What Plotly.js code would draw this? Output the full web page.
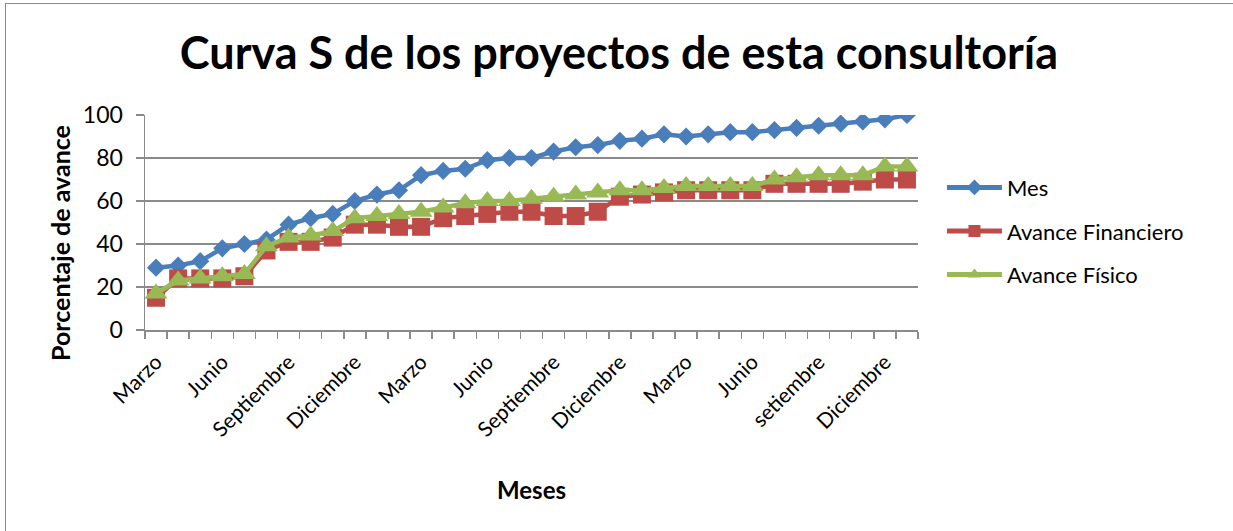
<!DOCTYPE html>
<html>
<head>
<meta charset="utf-8">
<script src="https://cdn.plot.ly/plotly-3.0.1.min.js"></script>
<style>
  html, body { margin: 0; padding: 0; background: #fff; }
  #chart { width: 1233px; height: 531px; }
  #frame { position: absolute; left: 5px; top: 3px; width: 1240px; height: 540px;
           border-left: 1.5px solid #8a8a8a; border-top: 1.5px solid #8a8a8a; pointer-events: none; }
</style>
</head>
<body>
<div id="chart"></div>
<div id="frame"></div>
<script>
const months = [
  "Marzo","Abril","Mayo","Junio","Julio","Agosto","Septiembre","Octubre","Noviembre","Diciembre","Enero","Febrero",
  "Marzo","Abril","Mayo","Junio","Julio","Agosto","Septiembre","Octubre","Noviembre","Diciembre","Enero","Febrero",
  "Marzo","Abril","Mayo","Junio","Julio","Agosto","setiembre","Octubre","Noviembre","Diciembre","Enero"
];
const labelEvery = 3;

const mes = [29,30,32,38,40,42,49,52,54,60,63,65,72,74,75,79,80,80,83,85,86,88,89,91,90,91,92,92,93,94,95,96,97,98,100];
const avanceFinanciero = [15,24,24,24,25,37,41,41,43,49,49,48,48,52,53,54,55,55,53,53,55,62,63,64,65,65,65,65,68,68,68,68,69,70,70];
const avanceFisico = [17,23,24,25,26,39,43,44,46,52,53,54,55,57,59,60,60,61,62,63,64,65,65,66,67,67,67,67,70,71,72,72,72,76,76];

const seriesNames = ["Mes","Avance Financiero","Avance Físico"];
const colors = ["#4A7EBB","#BE4B48","#98B954"];

const xIdx = months.map((_, i) => i);
const tickVals = xIdx.filter(i => i % labelEvery === 0);
const tickText = tickVals.map(i => months[i]);

const FONT = "Lato, 'Liberation Sans', sans-serif";

const traces = [
  {x: xIdx, y: mes, name: seriesNames[0], mode: "lines+markers", legendgroup: "a",
   line: {color: colors[0], width: 4.5}, marker: {symbol: "diamond", size: 14, color: colors[0]}},
  {x: xIdx, y: avanceFinanciero, name: seriesNames[1], mode: "lines+markers", legendgroup: "b",
   line: {color: colors[1], width: 4.5}, marker: {symbol: "square", size: 18, color: colors[1]}},
  {x: xIdx, y: avanceFisico, name: seriesNames[2], mode: "lines+markers", legendgroup: "c",
   line: {color: colors[2], width: 4.5}, marker: {symbol: "triangle-up", size: 20, color: colors[2]}}
];

const layout = {
  width: 1233, height: 531,
  paper_bgcolor: "#fff", plot_bgcolor: "#fff",
  margin: {l: 145, r: 315, t: 115, b: 201, autoexpand: false},
  font: {family: FONT, color: "#000", size: 19},
  title: {text: "<b>Curva S de los proyectos de esta consultoría</b>", font: {family: FONT, size: 45, color: "#000"},
          xref: "container", yref: "container", x: 0.502, xanchor: "center", y: 0.9, yanchor: "middle"},
  xaxis: {
    range: [-0.5, 34.5], tickmode: "array", tickvals: tickVals, ticktext: tickText,
    tickangle: -45, ticks: "", showgrid: false, zeroline: false, ticklabelstandoff: 10,
    showline: true, linecolor: "#8a8a8a", linewidth: 1.5,
    tickfont: {family: FONT, size: 21, color: "#000"},
    minor: {ticks: "outside", tick0: -0.5, dtick: 1, ticklen: 7, tickcolor: "#8a8a8a", tickwidth: 1.5, showgrid: false},
    title: {text: "<b>Meses</b>", font: {family: FONT, size: 24, color: "#000"}, standoff: 42},
    automargin: false, fixedrange: true
  },
  yaxis: {
    range: [0, 100], tickmode: "linear", tick0: 0, dtick: 20,
    ticks: "outside", ticklen: 8, tickcolor: "#8a8a8a", tickwidth: 1.5, ticklabelstandoff: 8,
    showgrid: true, gridcolor: "#8a8a8a", gridwidth: 1.5, zeroline: false,
    showline: true, linecolor: "#8a8a8a", linewidth: 1.5,
    tickfont: {family: FONT, size: 23, color: "#000"},
    automargin: false, fixedrange: true
  },
  annotations: [{
    text: "<b>Porcentaje de avance</b>", textangle: -90, showarrow: false,
    xref: "paper", yref: "paper", x: (60 - 145) / 773, y: (330 - 243) / 215,
    xanchor: "center", yanchor: "middle", font: {family: FONT, size: 25, color: "#000"}
  }],
  showlegend: true,
  legend: {x: 1.031, xref: "paper", xanchor: "left", y: 0.46, yanchor: "middle", yref: "paper",
           font: {family: FONT, size: 22, color: "#000"}, tracegroupgap: 12, itemwidth: 55,
           bgcolor: "rgba(0,0,0,0)", itemsizing: "constant"}
};

Plotly.newPlot("chart", traces, layout, {displayModeBar: false, staticPlot: true});
</script>
</body>
</html>
